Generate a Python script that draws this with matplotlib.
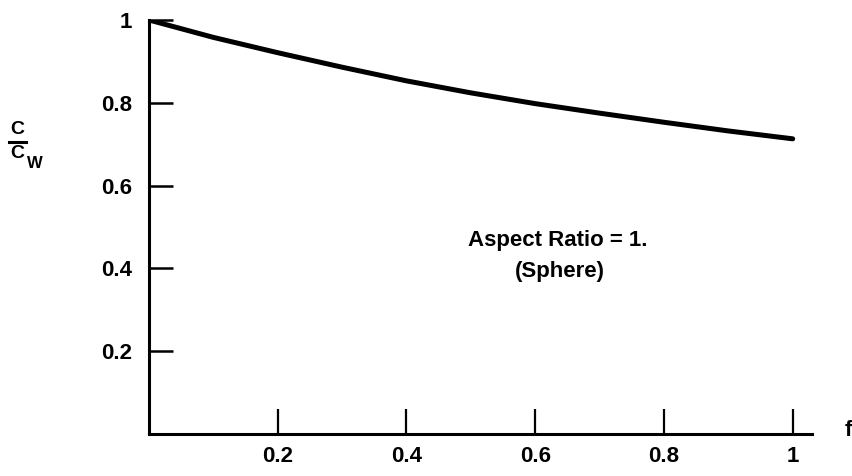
import matplotlib
matplotlib.use('Agg')
import matplotlib.pyplot as plt
from matplotlib.lines import Line2D

plt.rcParams['font.family'] = ['Liberation Sans', 'DejaVu Sans']

# drag ratio C/Cw against f for a sphere
f = [0.0, 0.1, 0.2, 0.3, 0.4, 0.5, 0.6, 0.7, 0.8, 0.9, 1.0]
ratio = [1.0, 0.958, 0.921, 0.886, 0.853, 0.824, 0.798, 0.775, 0.753, 0.732, 0.713]

xticks = [0.2, 0.4, 0.6, 0.8, 1.0]
xticklabels = ['0.2', '0.4', '0.6', '0.8', '1']
yticks = [0.2, 0.4, 0.6, 0.8, 1.0]
yticklabels = ['0.2', '0.4', '0.6', '0.8', '1']

fig = plt.figure(figsize=(8.53, 4.76), dpi=100)
ax = fig.add_axes([149 / 853, 1 - 434 / 476, 663 / 853, 414 / 476])

ax.plot(f, ratio, color='black', linewidth=3.6, solid_capstyle='round')

ax.set_xlim(0, 1.03)
ax.set_ylim(0, 1.0)
ax.spines['top'].set_visible(False)
ax.spines['right'].set_visible(False)
ax.spines['left'].set_linewidth(2.2)
ax.spines['bottom'].set_linewidth(2.2)

ax.set_xticks(xticks)
ax.set_xticklabels(xticklabels)
ax.set_yticks(yticks)
ax.set_yticklabels(yticklabels)
ax.tick_params(axis='x', direction='in', length=18, width=1.6, pad=9, labelsize=16)
ax.tick_params(axis='y', direction='in', length=17, width=1.8, pad=12, labelsize=16)
for lab in ax.get_xticklabels() + ax.get_yticklabels():
    lab.set_fontweight('bold')

ax.text(0.635, 0.467, 'Aspect Ratio = 1.', ha='center', va='center', fontsize=16, fontweight='bold')
ax.text(0.638, 0.393, '(Sphere)', ha='center', va='center', fontsize=16, fontweight='bold')

# axis names
fig.text(848 / 853, 1 - 430 / 476, 'f', ha='center', va='center', fontsize=16, fontweight='bold')
fig.text(17 / 853, 1 - 130 / 476, 'C', ha='center', va='center', fontsize=14, fontweight='bold')
fig.add_artist(Line2D([9 / 853, 26 / 853], [1 - 142 / 476, 1 - 142 / 476],
                      color='black', linewidth=2.2, transform=fig.transFigure))
fig.text(17 / 853, 1 - 154 / 476, 'C', ha='center', va='center', fontsize=14, fontweight='bold')
fig.text(35 / 853, 1 - 163 / 476, 'W', ha='center', va='center', fontsize=12, fontweight='bold')

fig.savefig('out.png', dpi=100)
